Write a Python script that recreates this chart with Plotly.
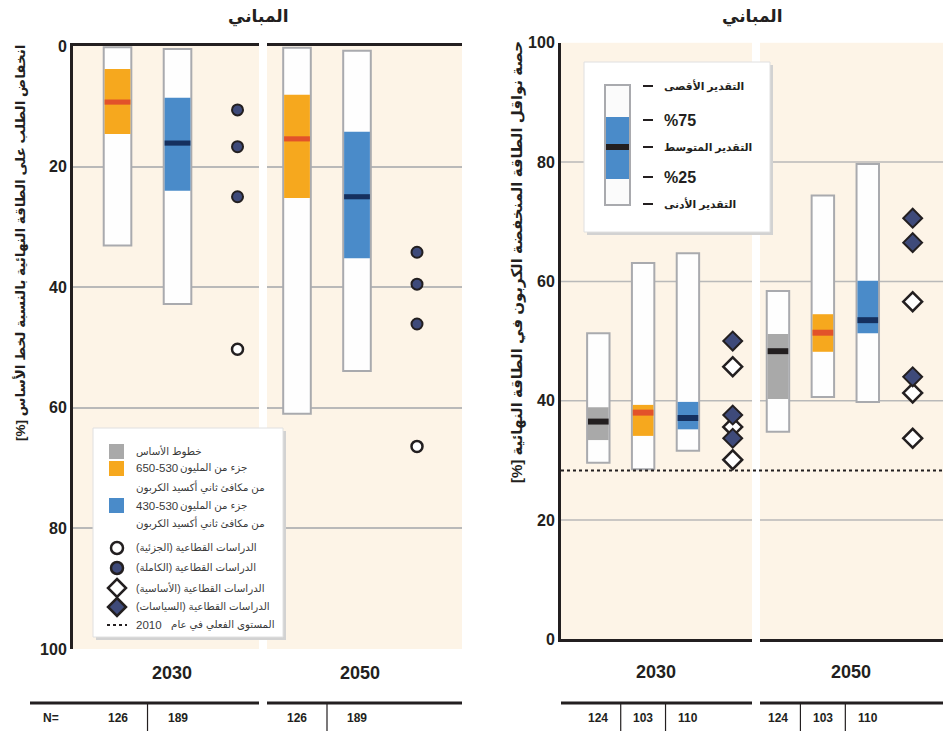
import plotly.graph_objects as go

W, H = 943, 731

# ---------------- DATA ----------------
TITLE = "المباني"
YEARS = ["2030", "2050"]

# Left panel: reduction of final energy demand relative to baseline [%]
LEFT_CATS = ["530-650", "430-530", "sectoral"]
LEFT_BOX_CATS = ["530-650", "430-530"]
left_2030_min = [0.2, 0.5]
left_2030_q25 = [3.8, 8.6]
left_2030_median = [9.3, 16.1]
left_2030_q75 = [14.6, 24.0]
left_2030_max = [33.1, 42.8]
left_2050_min = [0.3, 0.8]
left_2050_q25 = [8.1, 14.2]
left_2050_median = [15.4, 25.0]
left_2050_q75 = [25.2, 35.2]
left_2050_max = [61.0, 53.9]
left_2030_full = [10.6, 16.7, 25.0]
left_2030_partial = [50.3]
left_2050_full = [34.2, 39.5, 46.1]
left_2050_partial = [66.4]
left_n = [126, 189]

# Right panel: low-carbon fuel share in final energy [%]
RIGHT_CATS = ["baseline", "530-650", "430-530", "sectoral"]
RIGHT_BOX_CATS = ["baseline", "530-650", "430-530"]
right_2030_min = [29.6, 28.5, 31.6]
right_2030_q25 = [33.4, 34.1, 35.2]
right_2030_median = [36.5, 38.0, 37.1]
right_2030_q75 = [38.9, 39.3, 39.8]
right_2030_max = [51.3, 63.1, 64.7]
right_2050_min = [34.8, 40.6, 39.8]
right_2050_q25 = [40.3, 48.2, 51.3]
right_2050_median = [48.3, 51.4, 53.5]
right_2050_q75 = [51.2, 54.5, 60.1]
right_2050_max = [58.4, 74.4, 79.7]
right_2030_policy = [50.0, 37.6, 33.7]
right_2030_basic = [45.7, 35.6, 30.1]
right_2050_policy = [70.6, 66.5, 44.0]
right_2050_basic = [56.6, 41.3, 33.7]
right_n = [124, 103, 110]
actual_2010 = 28.3

Y_TICKS = [0, 20, 40, 60, 80, 100]

LRM = "\u200e"
LEFT_YTITLE = "[%] انخفاض الطلب على الطاقة النهائية بالنسبة لخط الأساس"
RIGHT_YTITLE = "[%] حصة نواقل الطاقة المنخفضة الكربون في الطاقة النهائية"

LEG_BASELINE = "خطوط الأساس"
LEG_RANGE_HI = "650-530"
LEG_RANGE_LO = "430-530"
LEG_PPM = "جزء من المليون"
LEG_CO2EQ = "من مكافئ ثاني أكسيد الكربون"
LEG_MARKERS = [
    "الدراسات القطاعية (الجزئية)",
    "الدراسات القطاعية (الكاملة)",
    "الدراسات القطاعية (الأساسية)",
    "الدراسات القطاعية (السياسات)",
]
LEG_YEAR = "2010"
LEG_ACTUAL = "المستوى الفعلي في عام"
LEGEND_RIGHT = ["التقدير الأقصى", "%75", "التقدير المتوسط", "%25", "التقدير الأدنى"]

# ---------------- STYLE ----------------
CREAM = "#FDF4E7"
DARK = "#231F20"
GRID = "#B9B9B9"
BOX_EDGE = "#A9AAAE"
ORANGE, ORANGE_MED = "#F6A81E", "#E2522A"
BLUE, BLUE_MED = "#4A8BC9", "#15305F"
GRAY, GRAY_MED = "#A9A9A9", "#231F20"
NAVY = "#3E4A7A"
FONT = "Liberation Sans, Arial, DejaVu Sans, sans-serif"


def X(px):
    return px / W


def Y(py):
    return 1 - py / H


fig = go.Figure()


def add_boxes(xa, ya, cats, mn, q25, med, q75, mx, band_cols, med_cols, bw, iw, mh):
    fig.add_trace(go.Bar(
        x=cats, base=mn, y=[b - a for a, b in zip(mn, mx)], width=bw,
        marker=dict(color="#FEFEFE", line=dict(color=BOX_EDGE, width=2)),
        xaxis=xa, yaxis=ya, showlegend=False, hoverinfo="skip"))
    fig.add_trace(go.Bar(
        x=cats, base=q25, y=[b - a for a, b in zip(q25, q75)], width=iw,
        marker=dict(color=band_cols, line=dict(width=0)),
        xaxis=xa, yaxis=ya, showlegend=False, hoverinfo="skip"))
    fig.add_trace(go.Bar(
        x=cats, base=[m - mh / 2 for m in med], y=[mh] * len(med), width=iw,
        marker=dict(color=med_cols, line=dict(width=0)),
        xaxis=xa, yaxis=ya, showlegend=False, hoverinfo="skip"))


# Left panel boxes
add_boxes("x", "y", LEFT_BOX_CATS, left_2030_min, left_2030_q25, left_2030_median,
          left_2030_q75, left_2030_max, [ORANGE, BLUE], [ORANGE_MED, BLUE_MED], 0.46, 0.43, 0.85)
add_boxes("x2", "y", LEFT_BOX_CATS, left_2050_min, left_2050_q25, left_2050_median,
          left_2050_q75, left_2050_max, [ORANGE, BLUE], [ORANGE_MED, BLUE_MED], 0.46, 0.43, 0.85)

# Right panel boxes
add_boxes("x3", "y2", RIGHT_BOX_CATS, right_2030_min, right_2030_q25, right_2030_median,
          right_2030_q75, right_2030_max, [GRAY, ORANGE, BLUE], [GRAY_MED, ORANGE_MED, BLUE_MED],
          0.5, 0.46, 1.0)
add_boxes("x4", "y2", RIGHT_BOX_CATS, right_2050_min, right_2050_q25, right_2050_median,
          right_2050_q75, right_2050_max, [GRAY, ORANGE, BLUE], [GRAY_MED, ORANGE_MED, BLUE_MED],
          0.5, 0.46, 1.0)

circ_full = dict(symbol="circle", size=11, color=NAVY, line=dict(color=DARK, width=2))
circ_part = dict(symbol="circle", size=11, color="white", line=dict(color=DARK, width=2.5))
dia_pol = dict(symbol="diamond", size=14.5, color=NAVY, line=dict(color=DARK, width=2))
dia_bas = dict(symbol="diamond", size=14.5, color="white", line=dict(color=DARK, width=2.5))

for xa, full, part in [("x", left_2030_full, left_2030_partial), ("x2", left_2050_full, left_2050_partial)]:
    fig.add_trace(go.Scatter(x=["sectoral"] * len(full), y=full, mode="markers", marker=circ_full,
                             xaxis=xa, yaxis="y", showlegend=False, hoverinfo="skip"))
    fig.add_trace(go.Scatter(x=["sectoral"] * len(part), y=part, mode="markers", marker=circ_part,
                             xaxis=xa, yaxis="y", showlegend=False, hoverinfo="skip"))

for xa, pol, bas in [("x3", right_2030_policy, right_2030_basic), ("x4", right_2050_policy, right_2050_basic)]:
    fig.add_trace(go.Scatter(x=["sectoral"] * len(bas), y=bas, mode="markers", marker=dia_bas,
                             xaxis=xa, yaxis="y2", showlegend=False, hoverinfo="skip"))
    fig.add_trace(go.Scatter(x=["sectoral"] * len(pol), y=pol, mode="markers", marker=dia_pol,
                             xaxis=xa, yaxis="y2", showlegend=False, hoverinfo="skip"))

# ---------------- AXES ----------------
xcommon = dict(type="category", showticklabels=False, ticks="", showgrid=False, zeroline=False,
               fixedrange=True, automargin=False)
ycommon = dict(tickvals=Y_TICKS, showline=True, linecolor=DARK, linewidth=3, zeroline=False,
               ticks="", fixedrange=True, automargin=False,
               tickfont=dict(family=FONT, size=16, color=DARK, weight="bold"))
fig.update_layout(
    xaxis=dict(xcommon, domain=[X(73), X(259)], anchor="y", range=[-0.742, 2.358],
               categoryarray=LEFT_CATS, showline=True, linecolor=DARK, linewidth=3, side="top"),
    xaxis2=dict(xcommon, domain=[X(267), X(462)], anchor="y", range=[-0.5, 2.75],
                categoryarray=LEFT_CATS, showline=True, linecolor=DARK, linewidth=3, side="top"),
    xaxis3=dict(xcommon, domain=[X(561), X(752)], anchor="y2", range=[-0.833, 3.43],
                categoryarray=RIGHT_CATS, showline=True, linecolor=DARK, linewidth=3),
    xaxis4=dict(xcommon, domain=[X(760), 1.0], anchor="y2", range=[-0.4, 3.675],
                categoryarray=RIGHT_CATS, showline=True, linecolor=DARK, linewidth=3),
    yaxis=dict(ycommon, domain=[Y(649), Y(46)], anchor="x", range=[100, 0],
               showgrid=True, gridcolor=GRID, gridwidth=1.5),
    yaxis2=dict(ycommon, domain=[Y(639.3), Y(42.8)], anchor="x3", range=[0, 100],
                showgrid=False),
    barmode="overlay",
    plot_bgcolor=CREAM,
    paper_bgcolor="white",
    width=W, height=H,
    margin=dict(l=0, r=0, t=0, b=0, autoexpand=False),
    showlegend=False,
    font=dict(family=FONT, color=DARK),
)

shapes = []
annotations = []

# right panel gridlines
for v in Y_TICKS[1:-1]:
    for xd in ["x3 domain", "x4 domain"]:
        shapes.append(dict(type="line", xref=xd, yref="y2", x0=0, x1=1, y0=v, y1=v,
                           line=dict(color=GRID, width=1.5), layer="below"))
# 2010 actual level
shapes.append(dict(type="line", xref="paper", yref="y2", x0=X(561), x1=1, y0=actual_2010,
                   y1=actual_2010, line=dict(color=DARK, width=2, dash="dot"), layer="above"))

# ---------------- TEXT ----------------
def ann(text, x, y, size=12, bold=False, color=DARK, xanchor="center", xref="paper",
        textangle=0):
    annotations.append(dict(
        text=LRM + text, x=x if xref != "paper" else X(x), y=Y(y), xref=xref, yref="paper",
        showarrow=False, xanchor=xanchor, yanchor="middle", textangle=textangle, borderpad=0,
        font=dict(family=FONT, size=size, color=color, weight="bold" if bold else "normal")))


ann(TITLE, 258, 17, size=17, bold=True)
ann(TITLE, 752, 17, size=17, bold=True)
ann(LEFT_YTITLE, 20, 243, size=13.5, bold=True, textangle=-90)
ann(RIGHT_YTITLE, 517, 262, size=15, bold=True, textangle=-90)

ann(YEARS[0], 172, 673, size=18, bold=True)
ann(YEARS[1], 360, 673, size=18, bold=True)
ann(YEARS[0], 656, 672, size=18, bold=True)
ann(YEARS[1], 851, 672, size=18, bold=True)

# bottom count rows
for x0, x1 in [(30, 259), (267, 462), (561, 752), (760, 943)]:
    shapes.append(dict(type="line", xref="paper", yref="paper", x0=X(x0), x1=X(x1), y0=Y(703),
                       y1=Y(703), line=dict(color=DARK, width=3)))
ann("N=", 51, 718, size=12, bold=True)
for xa, cats, counts in [("x", LEFT_BOX_CATS, left_n), ("x2", LEFT_BOX_CATS, left_n),
                         ("x3", RIGHT_BOX_CATS, right_n), ("x4", RIGHT_BOX_CATS, right_n)]:
    for c, n in zip(cats, counts):
        ann(str(n), c, 718, size=12, bold=True, xref=xa)
    for i in range(len(cats) - 1):
        shapes.append(dict(type="line", xref=xa, yref="paper", x0=i + 0.5, x1=i + 0.5,
                           y0=Y(704), y1=Y(731), line=dict(color=DARK, width=1.2)))

# ---------------- LEFT LEGEND ----------------
def rect(x0, y0, x1, y1, fill, line=None, lw=0):
    shapes.append(dict(type="rect", xref="paper", yref="paper", x0=X(x0), x1=X(x1), y0=Y(y1),
                       y1=Y(y0), fillcolor=fill, line=dict(color=line or fill, width=lw),
                       layer="above"))


rect(96, 431, 286, 640, "#D2D2D2")
rect(93, 428, 283, 637, "white", "#E0E0E0", 1)
rect(109, 444, 124, 459, GRAY)
rect(109, 461, 124, 476, ORANGE)
rect(109, 498, 124, 513, BLUE)
LC = "#3A3A3A"
LS = 10.3
ann(LEG_BASELINE, 135, 451, size=LS, color=LC, xanchor="left")
ann(LEG_RANGE_HI, 135, 468, size=11.5, color=LC, xanchor="left")
ann(LEG_PPM, 179, 468, size=LS, color=LC, xanchor="left")
ann(LEG_CO2EQ, 135, 487, size=LS, color=LC, xanchor="left")
ann(LEG_RANGE_LO, 135, 506, size=11.5, color=LC, xanchor="left")
ann(LEG_PPM, 179, 506, size=LS, color=LC, xanchor="left")
ann(LEG_CO2EQ, 135, 523, size=LS, color=LC, xanchor="left")
for i, yy in enumerate([548, 568, 588, 607]):
    ann(LEG_MARKERS[i], 135, yy, size=LS, color=LC, xanchor="left")
ann(LEG_YEAR, 135, 625, size=11.5, color=LC, xanchor="left")
ann(LEG_ACTUAL, 170, 625, size=LS, color=LC, xanchor="left")

for yy, fill in [(548, "white"), (568, NAVY)]:
    shapes.append(dict(type="circle", xref="paper", yref="paper", x0=X(111), x1=X(123),
                       y0=Y(yy + 6), y1=Y(yy - 6), fillcolor=fill,
                       line=dict(color=DARK, width=2.5), layer="above"))
for yy, fill in [(588, "white"), (607, NAVY)]:
    cx, r = 117, 9
    path = (f"M {X(cx)},{Y(yy - r)} L {X(cx + r)},{Y(yy)} L {X(cx)},{Y(yy + r)} "
            f"L {X(cx - r)},{Y(yy)} Z")
    shapes.append(dict(type="path", xref="paper", yref="paper", path=path, fillcolor=fill,
                       line=dict(color=DARK, width=2.5), layer="above"))
shapes.append(dict(type="line", xref="paper", yref="paper", x0=X(107), x1=X(127), y0=Y(625),
                   y1=Y(625), line=dict(color=DARK, width=2, dash="dot"), layer="above"))

# ---------------- RIGHT LEGEND ----------------
rect(587, 65, 773, 235, "#D2D2D2")
rect(584, 62, 770, 232, "white", "#E0E0E0", 1)
rect(605, 85, 630, 205, "#FBFBFB", BOX_EDGE, 2)
rect(606, 117, 629, 179, BLUE)
rect(606, 144, 629, 150, DARK)
for i, yy in enumerate([86, 120, 147, 177, 204]):
    shapes.append(dict(type="line", xref="paper", yref="paper", x0=X(643), x1=X(653), y0=Y(yy),
                       y1=Y(yy), line=dict(color=DARK, width=2), layer="above"))
    pct = LEGEND_RIGHT[i].startswith("%")
    ann(LEGEND_RIGHT[i], 663, yy, size=16 if pct else 10.8, bold=True, xanchor="left")

fig.update_layout(shapes=shapes, annotations=annotations)
fig.write_html(
    "out.html",
    config={"displayModeBar": False},
    post_script="document.body.style.margin='0';document.body.style.padding='0';"
                "document.body.style.overflow='hidden';",
)
